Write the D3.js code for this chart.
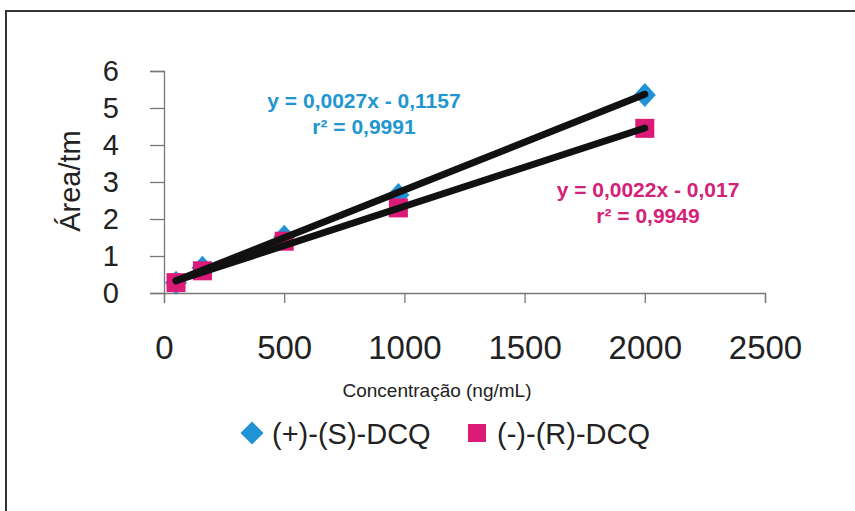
<!DOCTYPE html>
<html>
<head>
<meta charset="utf-8">
<script src="https://cdn.jsdelivr.net/npm/d3@7"></script>
<style>
  body { margin: 0; background: #fff; }
  text { font-family: "Liberation Sans", Arial, sans-serif; }
</style>
</head>
<body>
<div class="canva"></div>
<script>
// data
const concS = [50, 160, 500, 975, 2000];
const areaS = [0.28, 0.68, 1.52, 2.65, 5.35];
const concR = [50, 160, 500, 975, 2000];
const areaR = [0.28, 0.6, 1.4, 2.3, 4.45];

// trendline ends as drawn
const trendS = [[50, 0.33], [2000, 5.37]];
const trendR = [[50, 0.33], [2000, 4.46]];

const xTicks = [0, 500, 1000, 1500, 2000, 2500];
const yTicks = [0, 1, 2, 3, 4, 5, 6];
const seriesNames = ['(+)-(S)-DCQ', '(-)-(R)-DCQ'];
const eqS = ['y = 0,0027x - 0,1157', 'r² = 0,9991'];
const eqR = ['y = 0,0022x - 0,017', 'r² = 0,9949'];

const blue = '#1f93d6';
const pink = '#dc1a78';

const svg = d3.select('.canva').append('svg')
              .attr('width', 855)
              .attr('height', 511);

// frame, runs off the right and bottom edge
svg.append('rect')
   .attr('x', 6).attr('y', 11)
   .attr('width', 900).attr('height', 600)
   .attr('fill', 'none')
   .attr('stroke', '#333')
   .attr('stroke-width', 2);

const x = d3.scaleLinear().domain([0, 2500]).range([164, 765]);
const y = d3.scaleLinear().domain([0, 6]).range([293, 71]);

//axes
const xAxis = svg.append('g')
   .attr('transform', `translate(0, ${y(0)})`)
   .call(d3.axisBottom(x).tickValues(xTicks).tickSize(10).tickPadding(33).tickFormat(d3.format('d')));
const yAxis = svg.append('g')
   .attr('transform', `translate(${x(0)}, 0)`)
   .call(d3.axisLeft(y).tickValues(yTicks).tickSize(14).tickPadding(31).tickFormat(d3.format('d')));

[xAxis, yAxis].forEach(g => {
  g.select('.domain').attr('stroke', '#777').attr('stroke-width', 1.3);
  g.selectAll('.tick line').attr('stroke', '#777').attr('stroke-width', 1.3);
  g.selectAll('text').attr('fill', '#222').style('font-family', '"Liberation Sans", Arial, sans-serif');
});
xAxis.selectAll('text').style('font-size', '33px');
yAxis.selectAll('text').style('font-size', '29px');

// axis titles
svg.append('text')
   .attr('transform', 'translate(80, 181) rotate(-90)')
   .attr('text-anchor', 'middle')
   .style('font-size', '29px')
   .attr('fill', '#222')
   .text('Área/tm');

svg.append('text')
   .attr('x', 437).attr('y', 397)
   .attr('text-anchor', 'middle')
   .style('font-size', '19px')
   .attr('fill', '#222')
   .text('Concentração (ng/mL)');

// markers
const diamond = (cx, cy, w, h) => `M${cx},${cy - h}L${cx + w},${cy}L${cx},${cy + h}L${cx - w},${cy}Z`;

svg.append('g').selectAll('path')
   .data(concS.map((c, i) => [c, areaS[i]]))
   .enter().append('path')
   .attr('d', d => diamond(x(d[0]), y(d[1]), 11, 12))
   .attr('fill', blue);

svg.append('g').selectAll('rect')
   .data(concR.map((c, i) => [c, areaR[i]]))
   .enter().append('rect')
   .attr('x', d => x(d[0]) - 9.5)
   .attr('y', d => y(d[1]) - 9.5)
   .attr('width', 19).attr('height', 19)
   .attr('fill', pink);

// trendlines
const line = d3.line().x(d => x(d[0])).y(d => y(d[1]));
svg.append('g').selectAll('path')
   .data([trendS, trendR])
   .enter().append('path')
   .attr('d', line)
   .attr('stroke', '#111')
   .attr('stroke-width', 7)
   .attr('stroke-linecap', 'round')
   .attr('fill', 'none');

// equations
const eq = (lines, cx, by, col) => {
  svg.append('g').selectAll('text')
     .data(lines)
     .enter().append('text')
     .attr('x', cx)
     .attr('y', (d, i) => by + i * 26)
     .attr('text-anchor', 'middle')
     .style('font-size', '21px')
     .style('font-weight', 'bold')
     .attr('fill', col)
     .text(d => d);
};
eq(eqS, 364, 108, '#2196d0');
eq(eqR, 648, 197, '#d42278');

// legend
const leg = svg.append('g');
leg.append('path').attr('d', diamond(252, 433, 11.5, 11.5)).attr('fill', blue);
leg.append('text').attr('x', 272).attr('y', 444)
   .style('font-size', '29px').attr('fill', '#222').text(seriesNames[0]);
leg.append('rect').attr('x', 468).attr('y', 424).attr('width', 18).attr('height', 18).attr('fill', pink);
leg.append('text').attr('x', 497).attr('y', 444)
   .style('font-size', '29px').attr('fill', '#222').text(seriesNames[1]);
</script>
</body>
</html>
